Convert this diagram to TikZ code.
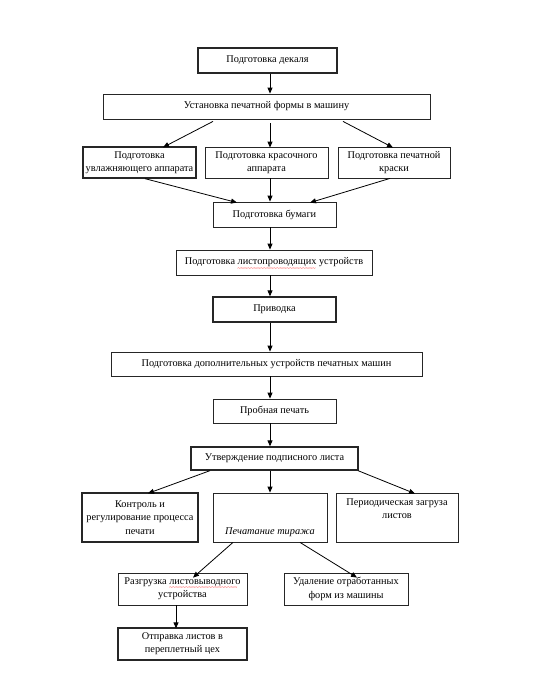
\documentclass[tikz,border=0pt]{standalone}
\usepackage{fontspec}
\setmainfont{Liberation Serif}
\usetikzlibrary{arrows.meta}
\newsavebox\wavebox
\newsavebox\wordbox
\newcommand\redwave[1]{\sbox\wordbox{#1}\sbox\wavebox{\raisebox{-5.2pt}[0pt][0pt]{\fontsize{6}{6}\selectfont\color{red}\char"007E}}\rlap{\leaders\copy\wavebox\hskip\wd\wordbox}\usebox\wordbox}
\begin{document}
\begin{tikzpicture}[x=1pt,y=-1pt,
  box/.style={draw=black!85,line width=0.8pt,rectangle,inner sep=0pt,align=center,
    font=\fontsize{10.3}{13.2}\selectfont},
  thick box/.style={box,line width=1.3pt},
  arr/.style={-{Triangle[length=6pt,width=5pt]},line width=0.8pt}]
\useasboundingbox (0,0) rectangle (537,681);
\coordinate (sp) at (270,0);
\node[thick box,minimum width=139pt,minimum height=25pt] (n1) at (267.5,60.5) {Подготовка декаля};
\node[box,minimum width=327pt,minimum height=25pt] (n2) at (266.5,106.5) {Установка печатной формы в машину};
\node[thick box,minimum width=113pt,minimum height=31pt] (n3a) at (139.5,162.5) {Подготовка\\увлажняющего аппарата};
\node[box,minimum width=123pt,minimum height=31pt] (n3b) at (266.5,162.5) {Подготовка красочного\\аппарата};
\node[box,minimum width=112pt,minimum height=31pt] (n3c) at (394,162.5) {Подготовка печатной\\краски};
\node[box,minimum width=123pt,minimum height=25pt] (n4) at (274.5,214.5) {Подготовка бумаги};
\node[box,minimum width=196pt,minimum height=25pt] (n5) at (274,262.5) {Подготовка \redwave{листопроводящих} устройств};
\node[thick box,minimum width=123pt,minimum height=25pt] (n6) at (274.5,309.5) {Приводка};
\node[box,minimum width=311pt,minimum height=24pt] (n7) at (266.5,364) {Подготовка дополнительных устройств печатных машин};
\node[box,minimum width=123pt,minimum height=24pt] (n8) at (274.5,411) {Пробная печать};
\node[thick box,minimum width=167pt,minimum height=23pt] (n9) at (274.5,458.5) {Утверждение подписного листа};
\node[thick box,minimum width=116pt,minimum height=49pt] (n10a) at (140,517.5) {Контроль и\\регулирование процесса\\печати};
\node[box,minimum width=114pt,minimum height=49pt] (n10b) at (270,517.5) {\strut\\\strut\\\textit{Печатание тиража}};
\node[box,minimum width=122pt,minimum height=49pt] (n10c) at (397,517.5) {Периодическая загруза\\листов\\\strut};
\node[box,minimum width=129pt,minimum height=32pt] (n11a) at (182.5,589) {Разгрузка \redwave{листовыводного}\\устройства};
\node[box,minimum width=124pt,minimum height=32pt] (n11b) at (346,589) {Удаление отработанных\\форм из машины};
\node[thick box,minimum width=129pt,minimum height=32pt] (n12) at (182.5,644) {Отправка листов в\\переплетный цех};
% arrows
\draw[arr] (n1.south -| sp) -- (n2.north -| sp);
\draw[arr] ([xshift=-53.5pt,yshift=-2pt]n2.south) -- ([xshift=23.5pt,yshift=-1pt]n3a.north);
\draw[arr] ([yshift=-4pt]n2.south -| sp) -- ([yshift=-1pt]n3b.north -| sp);
\draw[arr] ([xshift=76.5pt,yshift=-2pt]n2.south) -- ([xshift=-1pt,yshift=-1pt]n3c.north);
\draw[arr] ([xshift=5.5pt]n3a.south) -- ([xshift=-37.5pt,yshift=-1pt]n4.north);
\draw[arr] (n3b.south -| sp) -- (n4.north -| sp);
\draw[arr] ([xshift=-4pt]n3c.south) -- ([xshift=35.5pt,yshift=-1pt]n4.north);
\draw[arr] (n4.south -| sp) -- (n5.north -| sp);
\draw[arr] (n5.south -| sp) -- (n6.north -| sp);
\draw[arr] (n6.south -| sp) -- (n7.north -| sp);
\draw[arr] (n7.south -| sp) -- (n8.north -| sp);
\draw[arr] (n8.south -| sp) -- (n9.north -| sp);
\draw[arr] ([xshift=-64.5pt]n9.south) -- ([xshift=8pt,yshift=-1pt]n10a.north);
\draw[arr] (n9.south -| sp) -- (n10b.north -| sp);
\draw[arr] ([xshift=83.5pt]n9.south) -- ([xshift=18pt,yshift=-1pt]n10c.north);
\draw[arr] ([xshift=-37pt]n10b.south) -- ([xshift=10.5pt,yshift=-5pt]n11a.north);
\draw[arr] ([xshift=30pt]n10b.south) -- ([xshift=11pt,yshift=-5pt]n11b.north);
\draw[arr] ([xshift=-6.5pt]n11a.south) -- ([xshift=-6.5pt,yshift=-1pt]n12.north);
\end{tikzpicture}
\end{document}
